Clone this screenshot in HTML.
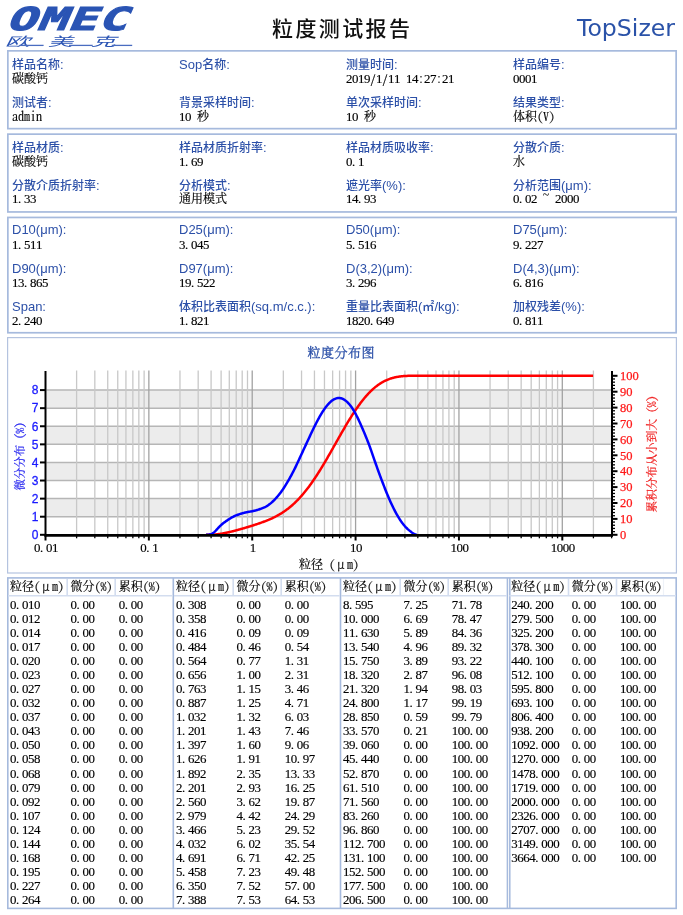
<!DOCTYPE html>
<html lang="zh-CN"><head><meta charset="utf-8"><title>粒度测试报告</title>
<style>
body{margin:0;background:#fff;width:683px;height:915px;overflow:hidden}
svg{display:block}
.lb{font-family:"Liberation Sans","Noto Sans CJK SC",sans-serif;font-size:12px;font-weight:500;fill:#2c50a8}
.lt{font-size:13px}
.v{font-family:"Liberation Serif","Noto Serif CJK SC",serif;font-size:12px;fill:#000;stroke:#000;stroke-width:0.15px}
.yt{font-family:"Liberation Serif","Noto Serif CJK SC",serif;font-size:12px;stroke-width:0.2px}
.dg{font-family:"Liberation Serif",serif;font-size:12.9px}
.h{font-family:"Noto Serif CJK SC","Liberation Serif",serif;font-feature-settings:"hwid";font-size:12px}
.tl{font-family:"Liberation Sans",sans-serif;font-size:12px;fill:#1a1aff;stroke:#1a1aff;stroke-width:0.3px}
.tr{font-family:"Liberation Serif",serif;font-size:12.5px;fill:#ff1a1a;stroke:#ff1a1a;stroke-width:0.25px}
</style></head><body>
<svg width="683" height="915" viewBox="0 0 683 915">
<rect width="683" height="915" fill="#fff"/>
<g fill="#2a54b4">
<text x="0" y="0" transform="translate(5.5,29.6) skewX(-24) scale(1.56,1)" style="font:bold 31.5px 'DejaVu Sans Mono','Liberation Mono',monospace;letter-spacing:0.6px" stroke="#2a54b4" stroke-width="1.0">OMEC</text>
</g>
<text x="0" y="0" transform="translate(4.8,45.6) skewX(-28) scale(2.0,1)" style="font:12.5px 'Liberation Sans','Noto Sans CJK SC',sans-serif" fill="#2a54b4">欧</text>
<text x="0" y="0" transform="translate(47.8,45.6) skewX(-28) scale(2.0,1)" style="font:12.5px 'Liberation Sans','Noto Sans CJK SC',sans-serif" fill="#2a54b4">美</text>
<text x="0" y="0" transform="translate(90.8,45.6) skewX(-28) scale(2.0,1)" style="font:12.5px 'Liberation Sans','Noto Sans CJK SC',sans-serif" fill="#2a54b4">克</text>
<line x1="19.5" y1="45.4" x2="43.6" y2="45.4" stroke="#4a6cc0" stroke-width="1.3"/>
<line x1="69" y1="45.4" x2="92.7" y2="45.4" stroke="#4a6cc0" stroke-width="1.3"/>
<line x1="111.7" y1="45.4" x2="132.2" y2="45.4" stroke="#4a6cc0" stroke-width="1.3"/>
<text x="272" y="36.3" style="font:500 21px 'Liberation Sans','Noto Sans CJK SC',sans-serif" fill="#111" textLength="138" lengthAdjust="spacing">粒度测试报告</text>
<text x="577" y="35.8" style="font:23px 'DejaVu Sans',sans-serif" fill="#2a52a8" textLength="98" lengthAdjust="spacingAndGlyphs">TopSizer</text>
<rect x="7.85" y="50.85" width="668.3" height="77.8" fill="none" stroke="#a6badd" stroke-width="1.7"/>
<rect x="7.85" y="134.15" width="668.3" height="77.8" fill="none" stroke="#a6badd" stroke-width="1.7"/>
<rect x="7.85" y="217.45" width="668.3" height="115.3" fill="none" stroke="#a6badd" stroke-width="1.7"/>
<text class="lb" x="12" y="69">样品名称<tspan class="lt">:</tspan></text>
<text class="v" x="12 24 36" y="82.9">碳酸钙</text>
<text class="lb" x="179" y="69"><tspan class="lt">Sop</tspan>名称<tspan class="lt">:</tspan></text>
<text class="lb" x="346" y="69">测量时间<tspan class="lt">:</tspan></text>
<text class="v" x="346 352 358 364 370 376 382 388 394 400 406 412 418 424 430 436 442 448" y="82.9"><tspan class="dg">2019</tspan><tspan class="h">/</tspan><tspan class="dg">1</tspan><tspan class="h">/</tspan><tspan class="dg">11</tspan><tspan class="h"> </tspan><tspan class="dg">14</tspan><tspan class="h">:</tspan><tspan class="dg">27</tspan><tspan class="h">:</tspan><tspan class="dg">21</tspan></text>
<text class="lb" x="513" y="69">样品编号<tspan class="lt">:</tspan></text>
<text class="v" x="513 519 525 531" y="82.9"><tspan class="dg">0001</tspan></text>
<text class="lb" x="12" y="107">测试者<tspan class="lt">:</tspan></text>
<text class="v" x="12 18 24 30 36" y="120.8"><tspan class="h">admin</tspan></text>
<text class="lb" x="179" y="107">背景采样时间<tspan class="lt">:</tspan></text>
<text class="v" x="179 185 191 197" y="120.8"><tspan class="dg">10</tspan><tspan class="h"> </tspan>秒</text>
<text class="lb" x="346" y="107">单次采样时间<tspan class="lt">:</tspan></text>
<text class="v" x="346 352 358 364" y="120.8"><tspan class="dg">10</tspan><tspan class="h"> </tspan>秒</text>
<text class="lb" x="513" y="107">结果类型<tspan class="lt">:</tspan></text>
<text class="v" x="513 525 537 543 549" y="120.8">体积<tspan class="h">(V)</tspan></text>
<text class="lb" x="12" y="152">样品材质<tspan class="lt">:</tspan></text>
<text class="v" x="12 24 36" y="165.5">碳酸钙</text>
<text class="lb" x="179" y="152">样品材质折射率<tspan class="lt">:</tspan></text>
<text class="v" x="179 185 191 197" y="165.5"><tspan class="dg">1.69</tspan></text>
<text class="lb" x="346" y="152">样品材质吸收率<tspan class="lt">:</tspan></text>
<text class="v" x="346 352 358" y="165.5"><tspan class="dg">0.1</tspan></text>
<text class="lb" x="513" y="152">分散介质<tspan class="lt">:</tspan></text>
<text class="v" x="513" y="165.5">水</text>
<text class="lb" x="12" y="189.5">分散介质折射率<tspan class="lt">:</tspan></text>
<text class="v" x="12 18 24 30" y="203"><tspan class="dg">1.33</tspan></text>
<text class="lb" x="179" y="189.5">分析模式<tspan class="lt">:</tspan></text>
<text class="v" x="179 191 203 215" y="203">通用模式</text>
<text class="lb" x="346" y="189.5">遮光率<tspan class="lt">(%):</tspan></text>
<text class="v" x="346 352 358 364 370" y="203"><tspan class="dg">14.93</tspan></text>
<text class="lb" x="513" y="189.5">分析范围<tspan class="lt">(μm):</tspan></text>
<text class="v" x="513 519 525 531 537 543 549 555 561 567 573" y="203 203 203 203 203 199 203 203 203 203 203"><tspan class="dg">0.02</tspan><tspan class="h"> ~ </tspan><tspan class="dg">2000</tspan></text>
<text class="lb" x="12" y="234.3"><tspan class="lt">D10(μm):</tspan></text>
<text class="v" x="12 18 24 30 36" y="248.7"><tspan class="dg">1.511</tspan></text>
<text class="lb" x="179" y="234.3"><tspan class="lt">D25(μm):</tspan></text>
<text class="v" x="179 185 191 197 203" y="248.7"><tspan class="dg">3.045</tspan></text>
<text class="lb" x="346" y="234.3"><tspan class="lt">D50(μm):</tspan></text>
<text class="v" x="346 352 358 364 370" y="248.7"><tspan class="dg">5.516</tspan></text>
<text class="lb" x="513" y="234.3"><tspan class="lt">D75(μm):</tspan></text>
<text class="v" x="513 519 525 531 537" y="248.7"><tspan class="dg">9.227</tspan></text>
<text class="lb" x="12" y="272.6"><tspan class="lt">D90(μm):</tspan></text>
<text class="v" x="12 18 24 30 36 42" y="287.1"><tspan class="dg">13.865</tspan></text>
<text class="lb" x="179" y="272.6"><tspan class="lt">D97(μm):</tspan></text>
<text class="v" x="179 185 191 197 203 209" y="287.1"><tspan class="dg">19.522</tspan></text>
<text class="lb" x="346" y="272.6"><tspan class="lt">D(3,2)(μm):</tspan></text>
<text class="v" x="346 352 358 364 370" y="287.1"><tspan class="dg">3.296</tspan></text>
<text class="lb" x="513" y="272.6"><tspan class="lt">D(4,3)(μm):</tspan></text>
<text class="v" x="513 519 525 531 537" y="287.1"><tspan class="dg">6.816</tspan></text>
<text class="lb" x="12" y="310.9"><tspan class="lt">Span:</tspan></text>
<text class="v" x="12 18 24 30 36" y="324.6"><tspan class="dg">2.240</tspan></text>
<text class="lb" x="179" y="310.9">体积比表面积<tspan class="lt">(sq.m/c.c.):</tspan></text>
<text class="v" x="179 185 191 197 203" y="324.6"><tspan class="dg">1.821</tspan></text>
<text class="lb" x="346" y="310.9">重量比表面积<tspan class="lt">(</tspan>㎡<tspan class="lt">/kg):</tspan></text>
<text class="v" x="346 352 358 364 370 376 382 388" y="324.6"><tspan class="dg">1820.649</tspan></text>
<text class="lb" x="513" y="310.9">加权残差<tspan class="lt">(%):</tspan></text>
<text class="v" x="513 519 525 531 537" y="324.6"><tspan class="dg">0.811</tspan></text>
<rect x="7.6" y="337.6" width="668.8" height="235.4" fill="none" stroke="#b4c3df" stroke-width="1.2"/>
<text x="307.5" y="356.6" style="font:13px 'Liberation Serif','Noto Serif CJK SC',serif;stroke:#2c50a8;stroke-width:0.3px" fill="#2c50a8" textLength="67" lengthAdjust="spacing">粒度分布图</text>
<rect x="46.5" y="498.62" width="564.5" height="18.09" fill="#ececec"/>
<rect x="46.5" y="462.44" width="564.5" height="18.09" fill="#ececec"/>
<rect x="46.5" y="426.26" width="564.5" height="18.09" fill="#ececec"/>
<rect x="46.5" y="390.08" width="564.5" height="18.09" fill="#ececec"/>
<line x1="46.5" y1="516.71" x2="611" y2="516.71" stroke="#b6b6b6" stroke-width="1.5"/>
<line x1="46.5" y1="498.62" x2="611" y2="498.62" stroke="#b6b6b6" stroke-width="1.5"/>
<line x1="46.5" y1="480.53" x2="611" y2="480.53" stroke="#b6b6b6" stroke-width="1.5"/>
<line x1="46.5" y1="462.44" x2="611" y2="462.44" stroke="#b6b6b6" stroke-width="1.5"/>
<line x1="46.5" y1="444.35" x2="611" y2="444.35" stroke="#b6b6b6" stroke-width="1.5"/>
<line x1="46.5" y1="426.26" x2="611" y2="426.26" stroke="#b6b6b6" stroke-width="1.5"/>
<line x1="46.5" y1="408.17" x2="611" y2="408.17" stroke="#b6b6b6" stroke-width="1.5"/>
<line x1="46.5" y1="390.08" x2="611" y2="390.08" stroke="#b6b6b6" stroke-width="1.5"/>
<line x1="76.61" y1="370.5" x2="76.61" y2="534" stroke="#c8c8c8" stroke-width="1.3"/>
<line x1="94.82" y1="370.5" x2="94.82" y2="534" stroke="#c8c8c8" stroke-width="1.3"/>
<line x1="107.73" y1="370.5" x2="107.73" y2="534" stroke="#c8c8c8" stroke-width="1.3"/>
<line x1="117.75" y1="370.5" x2="117.75" y2="534" stroke="#c8c8c8" stroke-width="1.3"/>
<line x1="125.93" y1="370.5" x2="125.93" y2="534" stroke="#c8c8c8" stroke-width="1.3"/>
<line x1="132.85" y1="370.5" x2="132.85" y2="534" stroke="#c8c8c8" stroke-width="1.3"/>
<line x1="138.84" y1="370.5" x2="138.84" y2="534" stroke="#c8c8c8" stroke-width="1.3"/>
<line x1="144.13" y1="370.5" x2="144.13" y2="534" stroke="#c8c8c8" stroke-width="1.3"/>
<line x1="148.86" y1="370.5" x2="148.86" y2="534" stroke="#a2a2a2" stroke-width="1.3"/>
<line x1="179.97" y1="370.5" x2="179.97" y2="534" stroke="#c8c8c8" stroke-width="1.3"/>
<line x1="198.18" y1="370.5" x2="198.18" y2="534" stroke="#c8c8c8" stroke-width="1.3"/>
<line x1="211.09" y1="370.5" x2="211.09" y2="534" stroke="#c8c8c8" stroke-width="1.3"/>
<line x1="221.11" y1="370.5" x2="221.11" y2="534" stroke="#c8c8c8" stroke-width="1.3"/>
<line x1="229.29" y1="370.5" x2="229.29" y2="534" stroke="#c8c8c8" stroke-width="1.3"/>
<line x1="236.21" y1="370.5" x2="236.21" y2="534" stroke="#c8c8c8" stroke-width="1.3"/>
<line x1="242.2" y1="370.5" x2="242.2" y2="534" stroke="#c8c8c8" stroke-width="1.3"/>
<line x1="247.49" y1="370.5" x2="247.49" y2="534" stroke="#c8c8c8" stroke-width="1.3"/>
<line x1="252.22" y1="370.5" x2="252.22" y2="534" stroke="#a2a2a2" stroke-width="1.3"/>
<line x1="283.33" y1="370.5" x2="283.33" y2="534" stroke="#c8c8c8" stroke-width="1.3"/>
<line x1="301.54" y1="370.5" x2="301.54" y2="534" stroke="#c8c8c8" stroke-width="1.3"/>
<line x1="314.45" y1="370.5" x2="314.45" y2="534" stroke="#c8c8c8" stroke-width="1.3"/>
<line x1="324.47" y1="370.5" x2="324.47" y2="534" stroke="#c8c8c8" stroke-width="1.3"/>
<line x1="332.65" y1="370.5" x2="332.65" y2="534" stroke="#c8c8c8" stroke-width="1.3"/>
<line x1="339.57" y1="370.5" x2="339.57" y2="534" stroke="#c8c8c8" stroke-width="1.3"/>
<line x1="345.56" y1="370.5" x2="345.56" y2="534" stroke="#c8c8c8" stroke-width="1.3"/>
<line x1="350.85" y1="370.5" x2="350.85" y2="534" stroke="#c8c8c8" stroke-width="1.3"/>
<line x1="355.58" y1="370.5" x2="355.58" y2="534" stroke="#a2a2a2" stroke-width="1.3"/>
<line x1="386.69" y1="370.5" x2="386.69" y2="534" stroke="#c8c8c8" stroke-width="1.3"/>
<line x1="404.9" y1="370.5" x2="404.9" y2="534" stroke="#c8c8c8" stroke-width="1.3"/>
<line x1="417.81" y1="370.5" x2="417.81" y2="534" stroke="#c8c8c8" stroke-width="1.3"/>
<line x1="427.83" y1="370.5" x2="427.83" y2="534" stroke="#c8c8c8" stroke-width="1.3"/>
<line x1="436.01" y1="370.5" x2="436.01" y2="534" stroke="#c8c8c8" stroke-width="1.3"/>
<line x1="442.93" y1="370.5" x2="442.93" y2="534" stroke="#c8c8c8" stroke-width="1.3"/>
<line x1="448.92" y1="370.5" x2="448.92" y2="534" stroke="#c8c8c8" stroke-width="1.3"/>
<line x1="454.21" y1="370.5" x2="454.21" y2="534" stroke="#c8c8c8" stroke-width="1.3"/>
<line x1="458.94" y1="370.5" x2="458.94" y2="534" stroke="#a2a2a2" stroke-width="1.3"/>
<line x1="490.05" y1="370.5" x2="490.05" y2="534" stroke="#c8c8c8" stroke-width="1.3"/>
<line x1="508.26" y1="370.5" x2="508.26" y2="534" stroke="#c8c8c8" stroke-width="1.3"/>
<line x1="521.17" y1="370.5" x2="521.17" y2="534" stroke="#c8c8c8" stroke-width="1.3"/>
<line x1="531.19" y1="370.5" x2="531.19" y2="534" stroke="#c8c8c8" stroke-width="1.3"/>
<line x1="539.37" y1="370.5" x2="539.37" y2="534" stroke="#c8c8c8" stroke-width="1.3"/>
<line x1="546.29" y1="370.5" x2="546.29" y2="534" stroke="#c8c8c8" stroke-width="1.3"/>
<line x1="552.28" y1="370.5" x2="552.28" y2="534" stroke="#c8c8c8" stroke-width="1.3"/>
<line x1="557.57" y1="370.5" x2="557.57" y2="534" stroke="#c8c8c8" stroke-width="1.3"/>
<line x1="562.3" y1="370.5" x2="562.3" y2="534" stroke="#a2a2a2" stroke-width="1.3"/>
<line x1="593.41" y1="370.5" x2="593.41" y2="534" stroke="#c8c8c8" stroke-width="1.3"/>
<polyline fill="none" stroke="#ff0000" stroke-width="2.5" stroke-linejoin="round" points="206.1,534.80 206.7,534.80 207.3,534.79 207.9,534.79 208.5,534.78 209.1,534.77 209.7,534.75 210.3,534.74 210.9,534.72 211.5,534.70 212.1,534.68 212.7,534.66 213.3,534.64 213.9,534.60 214.5,534.56 215.1,534.50 215.7,534.44 216.3,534.37 216.9,534.30 217.5,534.23 218.1,534.15 218.7,534.07 219.3,533.99 219.9,533.91 220.5,533.82 221.1,533.73 221.7,533.63 222.3,533.53 222.9,533.42 223.5,533.31 224.1,533.20 224.7,533.08 225.3,532.96 225.9,532.84 226.5,532.72 227.1,532.59 227.7,532.47 228.3,532.33 228.9,532.20 229.5,532.06 230.1,531.91 230.7,531.77 231.3,531.62 231.9,531.47 232.5,531.32 233.1,531.17 233.7,531.02 234.3,530.87 234.9,530.71 235.5,530.55 236.1,530.39 236.7,530.23 237.3,530.07 237.9,529.90 238.5,529.74 239.1,529.57 239.7,529.40 240.3,529.23 240.9,529.06 241.5,528.89 242.1,528.72 242.7,528.54 243.3,528.37 243.9,528.19 244.5,528.01 245.1,527.83 245.7,527.65 246.3,527.47 246.9,527.29 247.5,527.11 248.1,526.93 248.7,526.74 249.3,526.56 249.9,526.38 250.5,526.19 251.1,526.01 251.7,525.82 252.3,525.63 252.9,525.44 253.5,525.25 254.1,525.06 254.7,524.87 255.3,524.67 255.9,524.48 256.5,524.28 257.1,524.08 257.7,523.88 258.3,523.68 258.9,523.47 259.5,523.26 260.1,523.06 260.7,522.84 261.3,522.63 261.9,522.42 262.5,522.20 263.1,521.98 263.7,521.76 264.3,521.53 264.9,521.31 265.5,521.08 266.1,520.84 266.7,520.60 267.3,520.36 267.9,520.11 268.5,519.87 269.1,519.61 269.7,519.35 270.3,519.09 270.9,518.83 271.5,518.56 272.1,518.28 272.7,518.00 273.3,517.71 273.9,517.42 274.5,517.13 275.1,516.82 275.7,516.51 276.3,516.20 276.9,515.87 277.5,515.54 278.1,515.21 278.7,514.87 279.3,514.52 279.9,514.17 280.5,513.81 281.1,513.44 281.7,513.07 282.3,512.69 282.9,512.30 283.5,511.90 284.1,511.50 284.7,511.08 285.3,510.66 285.9,510.24 286.5,509.80 287.1,509.36 287.7,508.90 288.3,508.44 288.9,507.97 289.5,507.49 290.1,507.00 290.7,506.50 291.3,505.99 291.9,505.47 292.5,504.94 293.1,504.40 293.7,503.86 294.3,503.31 294.9,502.74 295.5,502.17 296.1,501.58 296.7,500.98 297.3,500.38 297.9,499.76 298.5,499.13 299.1,498.49 299.7,497.85 300.3,497.19 300.9,496.53 301.5,495.85 302.1,495.17 302.7,494.47 303.3,493.76 303.9,493.05 304.5,492.32 305.1,491.58 305.7,490.83 306.3,490.07 306.9,489.30 307.5,488.53 308.1,487.74 308.7,486.95 309.3,486.14 309.9,485.32 310.5,484.49 311.1,483.65 311.7,482.80 312.3,481.95 312.9,481.08 313.5,480.20 314.1,479.32 314.7,478.44 315.3,477.54 315.9,476.63 316.5,475.72 317.1,474.79 317.7,473.86 318.3,472.91 318.9,471.96 319.5,471.00 320.1,470.04 320.7,469.07 321.3,468.10 321.9,467.12 322.5,466.13 323.1,465.14 323.7,464.14 324.3,463.13 324.9,462.11 325.5,461.09 326.1,460.07 326.7,459.04 327.3,458.01 327.9,456.97 328.5,455.94 329.1,454.90 329.7,453.85 330.3,452.80 330.9,451.75 331.5,450.69 332.1,449.63 332.7,448.56 333.3,447.50 333.9,446.44 334.5,445.38 335.1,444.32 335.7,443.26 336.3,442.20 336.9,441.14 337.5,440.08 338.1,439.01 338.7,437.95 339.3,436.89 339.9,435.83 340.5,434.78 341.1,433.73 341.7,432.68 342.3,431.65 342.9,430.61 343.5,429.57 344.1,428.54 344.7,427.51 345.3,426.48 345.9,425.46 346.5,424.44 347.1,423.44 347.7,422.44 348.3,421.45 348.9,420.47 349.5,419.49 350.1,418.52 350.7,417.56 351.3,416.60 351.9,415.64 352.5,414.70 353.1,413.77 353.7,412.84 354.3,411.93 354.9,411.03 355.5,410.14 356.1,409.26 356.7,408.39 357.3,407.52 357.9,406.66 358.5,405.82 359.1,404.98 359.7,404.15 360.3,403.34 360.9,402.54 361.5,401.75 362.1,400.98 362.7,400.23 363.3,399.48 363.9,398.74 364.5,398.02 365.1,397.30 365.7,396.59 366.3,395.90 366.9,395.22 367.5,394.56 368.1,393.91 368.7,393.27 369.3,392.65 369.9,392.05 370.5,391.45 371.1,390.86 371.7,390.28 372.3,389.72 372.9,389.17 373.5,388.63 374.1,388.10 374.7,387.60 375.3,387.10 375.9,386.63 376.5,386.17 377.1,385.72 377.7,385.27 378.3,384.84 378.9,384.42 379.5,384.01 380.1,383.62 380.7,383.23 381.3,382.86 381.9,382.51 382.5,382.17 383.1,381.84 383.7,381.52 384.3,381.21 384.9,380.91 385.5,380.62 386.1,380.33 386.7,380.06 387.3,379.80 387.9,379.55 388.5,379.31 389.1,379.09 389.7,378.88 390.3,378.68 390.9,378.49 391.5,378.30 392.1,378.12 392.7,377.95 393.3,377.78 393.9,377.63 394.5,377.48 395.1,377.34 395.7,377.21 396.3,377.10 396.9,376.99 397.5,376.88 398.1,376.77 398.7,376.68 399.3,376.58 399.9,376.49 400.5,376.41 401.1,376.33 401.7,376.26 402.3,376.20 402.9,376.15 403.5,376.11 404.1,376.06 404.7,376.02 405.3,375.98 405.9,375.94 406.5,375.91 407.1,375.88 407.7,375.85 408.3,375.83 408.9,375.81 409.5,375.80 410.1,375.80 410.7,375.80 411.3,375.80 411.9,375.80 412.5,375.80 413.1,375.80 413.7,375.80 414.3,375.80 414.9,375.80 415.5,375.80 416.1,375.80 416.7,375.80 417.3,375.80 417.9,375.80 418.5,375.80 419.1,375.80 419.7,375.80 420.3,375.80 420.9,375.80 421.5,375.80 422.1,375.80 422.7,375.80 423.3,375.80 423.9,375.80 424.5,375.80 425.1,375.80 425.7,375.80 426.3,375.80 426.9,375.80 427.5,375.80 428.1,375.80 428.7,375.80 429.3,375.80 429.9,375.80 430.5,375.80 431.1,375.80 431.7,375.80 432.3,375.80 432.9,375.80 433.5,375.80 434.1,375.80 434.7,375.80 435.3,375.80 435.9,375.80 436.5,375.80 437.1,375.80 437.7,375.80 438.3,375.80 438.9,375.80 439.5,375.80 440.1,375.80 440.7,375.80 441.3,375.80 441.9,375.80 442.5,375.80 443.1,375.80 443.7,375.80 444.3,375.80 444.9,375.80 445.5,375.80 446.1,375.80 446.7,375.80 447.3,375.80 447.9,375.80 448.5,375.80 449.1,375.80 449.7,375.80 450.3,375.80 450.9,375.80 451.5,375.80 452.1,375.80 452.7,375.80 453.3,375.80 453.9,375.80 454.5,375.80 455.1,375.80 455.7,375.80 456.3,375.80 456.9,375.80 457.5,375.80 458.1,375.80 458.7,375.80 459.3,375.80 459.9,375.80 460.5,375.80 461.1,375.80 461.7,375.80 462.3,375.80 462.9,375.80 463.5,375.80 464.1,375.80 464.7,375.80 465.3,375.80 465.9,375.80 466.5,375.80 467.1,375.80 467.7,375.80 468.3,375.80 468.9,375.80 469.5,375.80 470.1,375.80 470.7,375.80 471.3,375.80 471.9,375.80 472.5,375.80 473.1,375.80 473.7,375.80 474.3,375.80 474.9,375.80 475.5,375.80 476.1,375.80 476.7,375.80 477.3,375.80 477.9,375.80 478.5,375.80 479.1,375.80 479.7,375.80 480.3,375.80 480.9,375.80 481.5,375.80 482.1,375.80 482.7,375.80 483.3,375.80 483.9,375.80 484.5,375.80 485.1,375.80 485.7,375.80 486.3,375.80 486.9,375.80 487.5,375.80 488.1,375.80 488.7,375.80 489.3,375.80 489.9,375.80 490.5,375.80 491.1,375.80 491.7,375.80 492.3,375.80 492.9,375.80 493.5,375.80 494.1,375.80 494.7,375.80 495.3,375.80 495.9,375.80 496.5,375.80 497.1,375.80 497.7,375.80 498.3,375.80 498.9,375.80 499.5,375.80 500.1,375.80 500.7,375.80 501.3,375.80 501.9,375.80 502.5,375.80 503.1,375.80 503.7,375.80 504.3,375.80 504.9,375.80 505.5,375.80 506.1,375.80 506.7,375.80 507.3,375.80 507.9,375.80 508.5,375.80 509.1,375.80 509.7,375.80 510.3,375.80 510.9,375.80 511.5,375.80 512.1,375.80 512.7,375.80 513.3,375.80 513.9,375.80 514.5,375.80 515.1,375.80 515.7,375.80 516.3,375.80 516.9,375.80 517.5,375.80 518.1,375.80 518.7,375.80 519.3,375.80 519.9,375.80 520.5,375.80 521.1,375.80 521.7,375.80 522.3,375.80 522.9,375.80 523.5,375.80 524.1,375.80 524.7,375.80 525.3,375.80 525.9,375.80 526.5,375.80 527.1,375.80 527.7,375.80 528.3,375.80 528.9,375.80 529.5,375.80 530.1,375.80 530.7,375.80 531.3,375.80 531.9,375.80 532.5,375.80 533.1,375.80 533.7,375.80 534.3,375.80 534.9,375.80 535.5,375.80 536.1,375.80 536.7,375.80 537.3,375.80 537.9,375.80 538.5,375.80 539.1,375.80 539.7,375.80 540.3,375.80 540.9,375.80 541.5,375.80 542.1,375.80 542.7,375.80 543.3,375.80 543.9,375.80 544.5,375.80 545.1,375.80 545.7,375.80 546.3,375.80 546.9,375.80 547.5,375.80 548.1,375.80 548.7,375.80 549.3,375.80 549.9,375.80 550.5,375.80 551.1,375.80 551.7,375.80 552.3,375.80 552.9,375.80 553.5,375.80 554.1,375.80 554.7,375.80 555.3,375.80 555.9,375.80 556.5,375.80 557.1,375.80 557.7,375.80 558.3,375.80 558.9,375.80 559.5,375.80 560.1,375.80 560.7,375.80 561.3,375.80 561.9,375.80 562.5,375.80 563.1,375.80 563.7,375.80 564.3,375.80 564.9,375.80 565.5,375.80 566.1,375.80 566.7,375.80 567.3,375.80 567.9,375.80 568.5,375.80 569.1,375.80 569.7,375.80 570.3,375.80 570.9,375.80 571.5,375.80 572.1,375.80 572.7,375.80 573.3,375.80 573.9,375.80 574.5,375.80 575.1,375.80 575.7,375.80 576.3,375.80 576.9,375.80 577.5,375.80 578.1,375.80 578.7,375.80 579.3,375.80 579.9,375.80 580.5,375.80 581.1,375.80 581.7,375.80 582.3,375.80 582.9,375.80 583.5,375.80 584.1,375.80 584.7,375.80 585.3,375.80 585.9,375.80 586.5,375.80 587.1,375.80 587.7,375.80 588.3,375.80 588.9,375.80 589.5,375.80 590.1,375.80 590.7,375.80 591.3,375.80 591.9,375.80 592.5,375.80 593.1,375.80"/>
<polyline fill="none" stroke="#0000ff" stroke-width="2.5" stroke-linejoin="round" points="206.1,534.80 206.7,534.79 207.3,534.77 207.9,534.73 208.5,534.67 209.1,534.59 209.7,534.48 210.3,534.33 210.9,534.14 211.5,533.90 212.1,533.61 212.7,533.26 213.3,532.85 213.9,532.38 214.5,531.85 215.1,531.29 215.7,530.69 216.3,530.06 216.9,529.41 217.5,528.76 218.1,528.11 218.7,527.46 219.3,526.82 219.9,526.21 220.5,525.63 221.1,525.07 221.7,524.54 222.3,524.03 222.9,523.54 223.5,523.06 224.1,522.60 224.7,522.15 225.3,521.72 225.9,521.29 226.5,520.87 227.1,520.46 227.7,520.05 228.3,519.65 228.9,519.26 229.5,518.88 230.1,518.51 230.7,518.14 231.3,517.79 231.9,517.45 232.5,517.12 233.1,516.80 233.7,516.50 234.3,516.22 234.9,515.94 235.5,515.68 236.1,515.43 236.7,515.19 237.3,514.96 237.9,514.74 238.5,514.52 239.1,514.32 239.7,514.12 240.3,513.92 240.9,513.73 241.5,513.55 242.1,513.37 242.7,513.20 243.3,513.03 243.9,512.87 244.5,512.72 245.1,512.57 245.7,512.43 246.3,512.30 246.9,512.17 247.5,512.05 248.1,511.94 248.7,511.83 249.3,511.73 249.9,511.62 250.5,511.52 251.1,511.41 251.7,511.31 252.3,511.19 252.9,511.07 253.5,510.95 254.1,510.81 254.7,510.67 255.3,510.52 255.9,510.36 256.5,510.19 257.1,510.01 257.7,509.83 258.3,509.64 258.9,509.45 259.5,509.25 260.1,509.05 260.7,508.84 261.3,508.62 261.9,508.40 262.5,508.17 263.1,507.93 263.7,507.68 264.3,507.41 264.9,507.13 265.5,506.83 266.1,506.51 266.7,506.17 267.3,505.81 267.9,505.42 268.5,505.01 269.1,504.57 269.7,504.12 270.3,503.64 270.9,503.15 271.5,502.63 272.1,502.09 272.7,501.54 273.3,500.97 273.9,500.38 274.5,499.78 275.1,499.16 275.7,498.52 276.3,497.86 276.9,497.19 277.5,496.50 278.1,495.79 278.7,495.06 279.3,494.31 279.9,493.53 280.5,492.74 281.1,491.92 281.7,491.08 282.3,490.22 282.9,489.34 283.5,488.44 284.1,487.52 284.7,486.59 285.3,485.63 285.9,484.66 286.5,483.68 287.1,482.68 287.7,481.67 288.3,480.64 288.9,479.60 289.5,478.55 290.1,477.48 290.7,476.40 291.3,475.29 291.9,474.18 292.5,473.04 293.1,471.89 293.7,470.72 294.3,469.53 294.9,468.32 295.5,467.09 296.1,465.84 296.7,464.58 297.3,463.31 297.9,462.02 298.5,460.73 299.1,459.43 299.7,458.13 300.3,456.82 300.9,455.52 301.5,454.21 302.1,452.91 302.7,451.61 303.3,450.32 303.9,449.02 304.5,447.73 305.1,446.44 305.7,445.15 306.3,443.86 306.9,442.57 307.5,441.28 308.1,439.99 308.7,438.70 309.3,437.41 309.9,436.12 310.5,434.84 311.1,433.57 311.7,432.30 312.3,431.03 312.9,429.78 313.5,428.54 314.1,427.31 314.7,426.09 315.3,424.89 315.9,423.71 316.5,422.54 317.1,421.39 317.7,420.26 318.3,419.15 318.9,418.05 319.5,416.98 320.1,415.93 320.7,414.90 321.3,413.90 321.9,412.92 322.5,411.96 323.1,411.03 323.7,410.12 324.3,409.24 324.9,408.39 325.5,407.56 326.1,406.77 326.7,406.00 327.3,405.27 327.9,404.56 328.5,403.89 329.1,403.25 329.7,402.64 330.3,402.07 330.9,401.53 331.5,401.03 332.1,400.56 332.7,400.13 333.3,399.74 333.9,399.39 334.5,399.07 335.1,398.80 335.7,398.57 336.3,398.37 336.9,398.22 337.5,398.11 338.1,398.04 338.7,398.01 339.3,398.02 339.9,398.08 340.5,398.17 341.1,398.31 341.7,398.48 342.3,398.70 342.9,398.96 343.5,399.26 344.1,399.61 344.7,399.99 345.3,400.41 345.9,400.88 346.5,401.38 347.1,401.92 347.7,402.51 348.3,403.13 348.9,403.79 349.5,404.49 350.1,405.23 350.7,406.01 351.3,406.82 351.9,407.68 352.5,408.58 353.1,409.51 353.7,410.49 354.3,411.50 354.9,412.55 355.5,413.65 356.1,414.78 356.7,415.95 357.3,417.15 357.9,418.39 358.5,419.65 359.1,420.94 359.7,422.25 360.3,423.58 360.9,424.93 361.5,426.30 362.1,427.68 362.7,429.06 363.3,430.46 363.9,431.87 364.5,433.29 365.1,434.72 365.7,436.18 366.3,437.66 366.9,439.15 367.5,440.68 368.1,442.22 368.7,443.80 369.3,445.41 369.9,447.05 370.5,448.72 371.1,450.41 371.7,452.12 372.3,453.85 372.9,455.58 373.5,457.32 374.1,459.06 374.7,460.80 375.3,462.53 375.9,464.25 376.5,465.96 377.1,467.65 377.7,469.32 378.3,470.98 378.9,472.63 379.5,474.26 380.1,475.88 380.7,477.48 381.3,479.08 381.9,480.66 382.5,482.24 383.1,483.80 383.7,485.36 384.3,486.90 384.9,488.43 385.5,489.94 386.1,491.44 386.7,492.92 387.3,494.39 387.9,495.83 388.5,497.26 389.1,498.66 389.7,500.04 390.3,501.39 390.9,502.72 391.5,504.03 392.1,505.31 392.7,506.56 393.3,507.79 393.9,509.00 394.5,510.18 395.1,511.33 395.7,512.46 396.3,513.56 396.9,514.63 397.5,515.68 398.1,516.70 398.7,517.70 399.3,518.66 399.9,519.60 400.5,520.50 401.1,521.38 401.7,522.23 402.3,523.05 402.9,523.83 403.5,524.59 404.1,525.31 404.7,526.01 405.3,526.67 405.9,527.31 406.5,527.92 407.1,528.51 407.7,529.08 408.3,529.62 408.9,530.15 409.5,530.65 410.1,531.13 410.7,531.60 411.3,532.05 411.9,532.47 412.5,532.87 413.1,533.25 413.7,533.59 414.3,533.90 414.9,534.18 415.5,534.42 416.1,534.63 416.7,534.79"/>
<line x1="45.5" y1="371" x2="45.5" y2="536.5" stroke="#000" stroke-width="2"/>
<line x1="612" y1="371" x2="612" y2="536.5" stroke="#000" stroke-width="2"/>
<line x1="44.5" y1="535.3" x2="613" y2="535.3" stroke="#000" stroke-width="2.8"/>
<line x1="40" y1="534.8" x2="45" y2="534.8" stroke="#000" stroke-width="2"/>
<text class="tl" x="38.5" y="539.1" text-anchor="end">0</text>
<line x1="40" y1="516.71" x2="45" y2="516.71" stroke="#000" stroke-width="2"/>
<text class="tl" x="38.5" y="521.01" text-anchor="end">1</text>
<line x1="40" y1="498.62" x2="45" y2="498.62" stroke="#000" stroke-width="2"/>
<text class="tl" x="38.5" y="502.92" text-anchor="end">2</text>
<line x1="40" y1="480.53" x2="45" y2="480.53" stroke="#000" stroke-width="2"/>
<text class="tl" x="38.5" y="484.83" text-anchor="end">3</text>
<line x1="40" y1="462.44" x2="45" y2="462.44" stroke="#000" stroke-width="2"/>
<text class="tl" x="38.5" y="466.74" text-anchor="end">4</text>
<line x1="40" y1="444.35" x2="45" y2="444.35" stroke="#000" stroke-width="2"/>
<text class="tl" x="38.5" y="448.65" text-anchor="end">5</text>
<line x1="40" y1="426.26" x2="45" y2="426.26" stroke="#000" stroke-width="2"/>
<text class="tl" x="38.5" y="430.56" text-anchor="end">6</text>
<line x1="40" y1="408.17" x2="45" y2="408.17" stroke="#000" stroke-width="2"/>
<text class="tl" x="38.5" y="412.47" text-anchor="end">7</text>
<line x1="40" y1="390.08" x2="45" y2="390.08" stroke="#000" stroke-width="2"/>
<text class="tl" x="38.5" y="394.38" text-anchor="end">8</text>
<line x1="612.5" y1="534.8" x2="617.5" y2="534.8" stroke="#000" stroke-width="2"/>
<text class="tr" x="620" y="539">0</text>
<line x1="612.5" y1="531.62" x2="615" y2="531.62" stroke="#000" stroke-width="1.3"/>
<line x1="612.5" y1="528.44" x2="615" y2="528.44" stroke="#000" stroke-width="1.3"/>
<line x1="612.5" y1="525.26" x2="615" y2="525.26" stroke="#000" stroke-width="1.3"/>
<line x1="612.5" y1="522.08" x2="615" y2="522.08" stroke="#000" stroke-width="1.3"/>
<line x1="612.5" y1="518.9" x2="617.5" y2="518.9" stroke="#000" stroke-width="2"/>
<text class="tr" x="620" y="523.1">10</text>
<line x1="612.5" y1="515.72" x2="615" y2="515.72" stroke="#000" stroke-width="1.3"/>
<line x1="612.5" y1="512.54" x2="615" y2="512.54" stroke="#000" stroke-width="1.3"/>
<line x1="612.5" y1="509.36" x2="615" y2="509.36" stroke="#000" stroke-width="1.3"/>
<line x1="612.5" y1="506.18" x2="615" y2="506.18" stroke="#000" stroke-width="1.3"/>
<line x1="612.5" y1="503" x2="617.5" y2="503" stroke="#000" stroke-width="2"/>
<text class="tr" x="620" y="507.2">20</text>
<line x1="612.5" y1="499.82" x2="615" y2="499.82" stroke="#000" stroke-width="1.3"/>
<line x1="612.5" y1="496.64" x2="615" y2="496.64" stroke="#000" stroke-width="1.3"/>
<line x1="612.5" y1="493.46" x2="615" y2="493.46" stroke="#000" stroke-width="1.3"/>
<line x1="612.5" y1="490.28" x2="615" y2="490.28" stroke="#000" stroke-width="1.3"/>
<line x1="612.5" y1="487.1" x2="617.5" y2="487.1" stroke="#000" stroke-width="2"/>
<text class="tr" x="620" y="491.3">30</text>
<line x1="612.5" y1="483.92" x2="615" y2="483.92" stroke="#000" stroke-width="1.3"/>
<line x1="612.5" y1="480.74" x2="615" y2="480.74" stroke="#000" stroke-width="1.3"/>
<line x1="612.5" y1="477.56" x2="615" y2="477.56" stroke="#000" stroke-width="1.3"/>
<line x1="612.5" y1="474.38" x2="615" y2="474.38" stroke="#000" stroke-width="1.3"/>
<line x1="612.5" y1="471.2" x2="617.5" y2="471.2" stroke="#000" stroke-width="2"/>
<text class="tr" x="620" y="475.4">40</text>
<line x1="612.5" y1="468.02" x2="615" y2="468.02" stroke="#000" stroke-width="1.3"/>
<line x1="612.5" y1="464.84" x2="615" y2="464.84" stroke="#000" stroke-width="1.3"/>
<line x1="612.5" y1="461.66" x2="615" y2="461.66" stroke="#000" stroke-width="1.3"/>
<line x1="612.5" y1="458.48" x2="615" y2="458.48" stroke="#000" stroke-width="1.3"/>
<line x1="612.5" y1="455.3" x2="617.5" y2="455.3" stroke="#000" stroke-width="2"/>
<text class="tr" x="620" y="459.5">50</text>
<line x1="612.5" y1="452.12" x2="615" y2="452.12" stroke="#000" stroke-width="1.3"/>
<line x1="612.5" y1="448.94" x2="615" y2="448.94" stroke="#000" stroke-width="1.3"/>
<line x1="612.5" y1="445.76" x2="615" y2="445.76" stroke="#000" stroke-width="1.3"/>
<line x1="612.5" y1="442.58" x2="615" y2="442.58" stroke="#000" stroke-width="1.3"/>
<line x1="612.5" y1="439.4" x2="617.5" y2="439.4" stroke="#000" stroke-width="2"/>
<text class="tr" x="620" y="443.6">60</text>
<line x1="612.5" y1="436.22" x2="615" y2="436.22" stroke="#000" stroke-width="1.3"/>
<line x1="612.5" y1="433.04" x2="615" y2="433.04" stroke="#000" stroke-width="1.3"/>
<line x1="612.5" y1="429.86" x2="615" y2="429.86" stroke="#000" stroke-width="1.3"/>
<line x1="612.5" y1="426.68" x2="615" y2="426.68" stroke="#000" stroke-width="1.3"/>
<line x1="612.5" y1="423.5" x2="617.5" y2="423.5" stroke="#000" stroke-width="2"/>
<text class="tr" x="620" y="427.7">70</text>
<line x1="612.5" y1="420.32" x2="615" y2="420.32" stroke="#000" stroke-width="1.3"/>
<line x1="612.5" y1="417.14" x2="615" y2="417.14" stroke="#000" stroke-width="1.3"/>
<line x1="612.5" y1="413.96" x2="615" y2="413.96" stroke="#000" stroke-width="1.3"/>
<line x1="612.5" y1="410.78" x2="615" y2="410.78" stroke="#000" stroke-width="1.3"/>
<line x1="612.5" y1="407.6" x2="617.5" y2="407.6" stroke="#000" stroke-width="2"/>
<text class="tr" x="620" y="411.8">80</text>
<line x1="612.5" y1="404.42" x2="615" y2="404.42" stroke="#000" stroke-width="1.3"/>
<line x1="612.5" y1="401.24" x2="615" y2="401.24" stroke="#000" stroke-width="1.3"/>
<line x1="612.5" y1="398.06" x2="615" y2="398.06" stroke="#000" stroke-width="1.3"/>
<line x1="612.5" y1="394.88" x2="615" y2="394.88" stroke="#000" stroke-width="1.3"/>
<line x1="612.5" y1="391.7" x2="617.5" y2="391.7" stroke="#000" stroke-width="2"/>
<text class="tr" x="620" y="395.9">90</text>
<line x1="612.5" y1="388.52" x2="615" y2="388.52" stroke="#000" stroke-width="1.3"/>
<line x1="612.5" y1="385.34" x2="615" y2="385.34" stroke="#000" stroke-width="1.3"/>
<line x1="612.5" y1="382.16" x2="615" y2="382.16" stroke="#000" stroke-width="1.3"/>
<line x1="612.5" y1="378.98" x2="615" y2="378.98" stroke="#000" stroke-width="1.3"/>
<line x1="612.5" y1="375.8" x2="617.5" y2="375.8" stroke="#000" stroke-width="2"/>
<text class="tr" x="620" y="380">100</text>
<line x1="45.5" y1="535" x2="45.5" y2="540.5" stroke="#000" stroke-width="2"/>
<line x1="76.61" y1="535" x2="76.61" y2="538.3" stroke="#000" stroke-width="1.3"/>
<line x1="94.82" y1="535" x2="94.82" y2="538.3" stroke="#000" stroke-width="1.3"/>
<line x1="107.73" y1="535" x2="107.73" y2="538.3" stroke="#000" stroke-width="1.3"/>
<line x1="117.75" y1="535" x2="117.75" y2="538.3" stroke="#000" stroke-width="1.3"/>
<line x1="125.93" y1="535" x2="125.93" y2="538.3" stroke="#000" stroke-width="1.3"/>
<line x1="132.85" y1="535" x2="132.85" y2="538.3" stroke="#000" stroke-width="1.3"/>
<line x1="138.84" y1="535" x2="138.84" y2="538.3" stroke="#000" stroke-width="1.3"/>
<line x1="144.13" y1="535" x2="144.13" y2="538.3" stroke="#000" stroke-width="1.3"/>
<line x1="148.86" y1="535" x2="148.86" y2="540.5" stroke="#000" stroke-width="2"/>
<line x1="179.97" y1="535" x2="179.97" y2="538.3" stroke="#000" stroke-width="1.3"/>
<line x1="198.18" y1="535" x2="198.18" y2="538.3" stroke="#000" stroke-width="1.3"/>
<line x1="211.09" y1="535" x2="211.09" y2="538.3" stroke="#000" stroke-width="1.3"/>
<line x1="221.11" y1="535" x2="221.11" y2="538.3" stroke="#000" stroke-width="1.3"/>
<line x1="229.29" y1="535" x2="229.29" y2="538.3" stroke="#000" stroke-width="1.3"/>
<line x1="236.21" y1="535" x2="236.21" y2="538.3" stroke="#000" stroke-width="1.3"/>
<line x1="242.2" y1="535" x2="242.2" y2="538.3" stroke="#000" stroke-width="1.3"/>
<line x1="247.49" y1="535" x2="247.49" y2="538.3" stroke="#000" stroke-width="1.3"/>
<line x1="252.22" y1="535" x2="252.22" y2="540.5" stroke="#000" stroke-width="2"/>
<line x1="283.33" y1="535" x2="283.33" y2="538.3" stroke="#000" stroke-width="1.3"/>
<line x1="301.54" y1="535" x2="301.54" y2="538.3" stroke="#000" stroke-width="1.3"/>
<line x1="314.45" y1="535" x2="314.45" y2="538.3" stroke="#000" stroke-width="1.3"/>
<line x1="324.47" y1="535" x2="324.47" y2="538.3" stroke="#000" stroke-width="1.3"/>
<line x1="332.65" y1="535" x2="332.65" y2="538.3" stroke="#000" stroke-width="1.3"/>
<line x1="339.57" y1="535" x2="339.57" y2="538.3" stroke="#000" stroke-width="1.3"/>
<line x1="345.56" y1="535" x2="345.56" y2="538.3" stroke="#000" stroke-width="1.3"/>
<line x1="350.85" y1="535" x2="350.85" y2="538.3" stroke="#000" stroke-width="1.3"/>
<line x1="355.58" y1="535" x2="355.58" y2="540.5" stroke="#000" stroke-width="2"/>
<line x1="386.69" y1="535" x2="386.69" y2="538.3" stroke="#000" stroke-width="1.3"/>
<line x1="404.9" y1="535" x2="404.9" y2="538.3" stroke="#000" stroke-width="1.3"/>
<line x1="417.81" y1="535" x2="417.81" y2="538.3" stroke="#000" stroke-width="1.3"/>
<line x1="427.83" y1="535" x2="427.83" y2="538.3" stroke="#000" stroke-width="1.3"/>
<line x1="436.01" y1="535" x2="436.01" y2="538.3" stroke="#000" stroke-width="1.3"/>
<line x1="442.93" y1="535" x2="442.93" y2="538.3" stroke="#000" stroke-width="1.3"/>
<line x1="448.92" y1="535" x2="448.92" y2="538.3" stroke="#000" stroke-width="1.3"/>
<line x1="454.21" y1="535" x2="454.21" y2="538.3" stroke="#000" stroke-width="1.3"/>
<line x1="458.94" y1="535" x2="458.94" y2="540.5" stroke="#000" stroke-width="2"/>
<line x1="490.05" y1="535" x2="490.05" y2="538.3" stroke="#000" stroke-width="1.3"/>
<line x1="508.26" y1="535" x2="508.26" y2="538.3" stroke="#000" stroke-width="1.3"/>
<line x1="521.17" y1="535" x2="521.17" y2="538.3" stroke="#000" stroke-width="1.3"/>
<line x1="531.19" y1="535" x2="531.19" y2="538.3" stroke="#000" stroke-width="1.3"/>
<line x1="539.37" y1="535" x2="539.37" y2="538.3" stroke="#000" stroke-width="1.3"/>
<line x1="546.29" y1="535" x2="546.29" y2="538.3" stroke="#000" stroke-width="1.3"/>
<line x1="552.28" y1="535" x2="552.28" y2="538.3" stroke="#000" stroke-width="1.3"/>
<line x1="557.57" y1="535" x2="557.57" y2="538.3" stroke="#000" stroke-width="1.3"/>
<line x1="562.3" y1="535" x2="562.3" y2="540.5" stroke="#000" stroke-width="2"/>
<line x1="593.41" y1="535" x2="593.41" y2="538.3" stroke="#000" stroke-width="1.3"/>
<line x1="611.62" y1="535" x2="611.62" y2="538.3" stroke="#000" stroke-width="1.3"/>
<text class="v" x="34 40 46 52" y="551.6"><tspan class="dg">0.01</tspan></text>
<text class="v" x="140.36 146.36 152.36" y="551.6"><tspan class="dg">0.1</tspan></text>
<text class="v" x="249.72" y="551.6"><tspan class="dg">1</tspan></text>
<text class="v" x="350.08 356.08" y="551.6"><tspan class="dg">10</tspan></text>
<text class="v" x="450.44 456.44 462.44" y="551.6"><tspan class="dg">100</tspan></text>
<text class="v" x="550.8 556.8 562.8 568.8" y="551.6"><tspan class="dg">1000</tspan></text>
<text class="v" x="299 311 323 329 337 347 353" y="569.3">粒径<tspan class="h"> (μm)</tspan></text>
<g transform="translate(23.5,490.5) rotate(-90) scale(0.95)" fill="#2a2af0" stroke="#2a2af0"><text class="yt" x="0 12 24 36 48 54 60 66" y="0">微分分布<tspan class="h"> (%)</tspan></text></g>
<g transform="translate(655.8,512.5) rotate(-90) scale(0.975)" fill="#f02020" stroke="#f02020"><text class="yt" x="0 12 24 36 48 60 72 84 96 102 108 114" y="0">累积分布从小到大<tspan class="h"> (%)</tspan></text></g>
<rect x="7.8" y="577.9" width="668.4" height="330.5" fill="none" stroke="#a6badd" stroke-width="1.6"/>
<line x1="173.3" y1="578" x2="173.3" y2="909" stroke="#a6badd" stroke-width="1.6"/>
<line x1="340.5" y1="578" x2="340.5" y2="909" stroke="#a6badd" stroke-width="1.6"/>
<line x1="507.4" y1="578" x2="507.4" y2="909" stroke="#a6badd" stroke-width="1.5"/>
<line x1="509.8" y1="578" x2="509.8" y2="909" stroke="#a6badd" stroke-width="1.5"/>
<line x1="67.2" y1="579" x2="67.2" y2="595" stroke="#d3ddef" stroke-width="1.6"/>
<line x1="115.2" y1="579" x2="115.2" y2="595" stroke="#d3ddef" stroke-width="1.6"/>
<line x1="8" y1="595.8" x2="172.5" y2="595.8" stroke="#d3ddef" stroke-width="1.6"/>
<text class="v" x="10 22 34 42 52 58" y="591.2">粒径<tspan class="h">(μm)</tspan></text>
<text class="v" x="70.5 82.5 94.5 100.5 106.5" y="591.2">微分<tspan class="h">(%)</tspan></text>
<text class="v" x="118.7 130.7 142.7 148.7 154.7" y="591.2">累积<tspan class="h">(%)</tspan></text>
<text class="v" x="10 16 22 28 34" y="608.9"><tspan class="dg">0.010</tspan></text>
<text class="v" x="70.5 76.5 82.5 88.5" y="608.9"><tspan class="dg">0.00</tspan></text>
<text class="v" x="118.7 124.7 130.7 136.7" y="608.9"><tspan class="dg">0.00</tspan></text>
<text class="v" x="10 16 22 28 34" y="622.95"><tspan class="dg">0.012</tspan></text>
<text class="v" x="70.5 76.5 82.5 88.5" y="622.95"><tspan class="dg">0.00</tspan></text>
<text class="v" x="118.7 124.7 130.7 136.7" y="622.95"><tspan class="dg">0.00</tspan></text>
<text class="v" x="10 16 22 28 34" y="637"><tspan class="dg">0.014</tspan></text>
<text class="v" x="70.5 76.5 82.5 88.5" y="637"><tspan class="dg">0.00</tspan></text>
<text class="v" x="118.7 124.7 130.7 136.7" y="637"><tspan class="dg">0.00</tspan></text>
<text class="v" x="10 16 22 28 34" y="651.05"><tspan class="dg">0.017</tspan></text>
<text class="v" x="70.5 76.5 82.5 88.5" y="651.05"><tspan class="dg">0.00</tspan></text>
<text class="v" x="118.7 124.7 130.7 136.7" y="651.05"><tspan class="dg">0.00</tspan></text>
<text class="v" x="10 16 22 28 34" y="665.1"><tspan class="dg">0.020</tspan></text>
<text class="v" x="70.5 76.5 82.5 88.5" y="665.1"><tspan class="dg">0.00</tspan></text>
<text class="v" x="118.7 124.7 130.7 136.7" y="665.1"><tspan class="dg">0.00</tspan></text>
<text class="v" x="10 16 22 28 34" y="679.15"><tspan class="dg">0.023</tspan></text>
<text class="v" x="70.5 76.5 82.5 88.5" y="679.15"><tspan class="dg">0.00</tspan></text>
<text class="v" x="118.7 124.7 130.7 136.7" y="679.15"><tspan class="dg">0.00</tspan></text>
<text class="v" x="10 16 22 28 34" y="693.2"><tspan class="dg">0.027</tspan></text>
<text class="v" x="70.5 76.5 82.5 88.5" y="693.2"><tspan class="dg">0.00</tspan></text>
<text class="v" x="118.7 124.7 130.7 136.7" y="693.2"><tspan class="dg">0.00</tspan></text>
<text class="v" x="10 16 22 28 34" y="707.25"><tspan class="dg">0.032</tspan></text>
<text class="v" x="70.5 76.5 82.5 88.5" y="707.25"><tspan class="dg">0.00</tspan></text>
<text class="v" x="118.7 124.7 130.7 136.7" y="707.25"><tspan class="dg">0.00</tspan></text>
<text class="v" x="10 16 22 28 34" y="721.3"><tspan class="dg">0.037</tspan></text>
<text class="v" x="70.5 76.5 82.5 88.5" y="721.3"><tspan class="dg">0.00</tspan></text>
<text class="v" x="118.7 124.7 130.7 136.7" y="721.3"><tspan class="dg">0.00</tspan></text>
<text class="v" x="10 16 22 28 34" y="735.35"><tspan class="dg">0.043</tspan></text>
<text class="v" x="70.5 76.5 82.5 88.5" y="735.35"><tspan class="dg">0.00</tspan></text>
<text class="v" x="118.7 124.7 130.7 136.7" y="735.35"><tspan class="dg">0.00</tspan></text>
<text class="v" x="10 16 22 28 34" y="749.4"><tspan class="dg">0.050</tspan></text>
<text class="v" x="70.5 76.5 82.5 88.5" y="749.4"><tspan class="dg">0.00</tspan></text>
<text class="v" x="118.7 124.7 130.7 136.7" y="749.4"><tspan class="dg">0.00</tspan></text>
<text class="v" x="10 16 22 28 34" y="763.45"><tspan class="dg">0.058</tspan></text>
<text class="v" x="70.5 76.5 82.5 88.5" y="763.45"><tspan class="dg">0.00</tspan></text>
<text class="v" x="118.7 124.7 130.7 136.7" y="763.45"><tspan class="dg">0.00</tspan></text>
<text class="v" x="10 16 22 28 34" y="777.5"><tspan class="dg">0.068</tspan></text>
<text class="v" x="70.5 76.5 82.5 88.5" y="777.5"><tspan class="dg">0.00</tspan></text>
<text class="v" x="118.7 124.7 130.7 136.7" y="777.5"><tspan class="dg">0.00</tspan></text>
<text class="v" x="10 16 22 28 34" y="791.55"><tspan class="dg">0.079</tspan></text>
<text class="v" x="70.5 76.5 82.5 88.5" y="791.55"><tspan class="dg">0.00</tspan></text>
<text class="v" x="118.7 124.7 130.7 136.7" y="791.55"><tspan class="dg">0.00</tspan></text>
<text class="v" x="10 16 22 28 34" y="805.6"><tspan class="dg">0.092</tspan></text>
<text class="v" x="70.5 76.5 82.5 88.5" y="805.6"><tspan class="dg">0.00</tspan></text>
<text class="v" x="118.7 124.7 130.7 136.7" y="805.6"><tspan class="dg">0.00</tspan></text>
<text class="v" x="10 16 22 28 34" y="819.65"><tspan class="dg">0.107</tspan></text>
<text class="v" x="70.5 76.5 82.5 88.5" y="819.65"><tspan class="dg">0.00</tspan></text>
<text class="v" x="118.7 124.7 130.7 136.7" y="819.65"><tspan class="dg">0.00</tspan></text>
<text class="v" x="10 16 22 28 34" y="833.7"><tspan class="dg">0.124</tspan></text>
<text class="v" x="70.5 76.5 82.5 88.5" y="833.7"><tspan class="dg">0.00</tspan></text>
<text class="v" x="118.7 124.7 130.7 136.7" y="833.7"><tspan class="dg">0.00</tspan></text>
<text class="v" x="10 16 22 28 34" y="847.75"><tspan class="dg">0.144</tspan></text>
<text class="v" x="70.5 76.5 82.5 88.5" y="847.75"><tspan class="dg">0.00</tspan></text>
<text class="v" x="118.7 124.7 130.7 136.7" y="847.75"><tspan class="dg">0.00</tspan></text>
<text class="v" x="10 16 22 28 34" y="861.8"><tspan class="dg">0.168</tspan></text>
<text class="v" x="70.5 76.5 82.5 88.5" y="861.8"><tspan class="dg">0.00</tspan></text>
<text class="v" x="118.7 124.7 130.7 136.7" y="861.8"><tspan class="dg">0.00</tspan></text>
<text class="v" x="10 16 22 28 34" y="875.85"><tspan class="dg">0.195</tspan></text>
<text class="v" x="70.5 76.5 82.5 88.5" y="875.85"><tspan class="dg">0.00</tspan></text>
<text class="v" x="118.7 124.7 130.7 136.7" y="875.85"><tspan class="dg">0.00</tspan></text>
<text class="v" x="10 16 22 28 34" y="889.9"><tspan class="dg">0.227</tspan></text>
<text class="v" x="70.5 76.5 82.5 88.5" y="889.9"><tspan class="dg">0.00</tspan></text>
<text class="v" x="118.7 124.7 130.7 136.7" y="889.9"><tspan class="dg">0.00</tspan></text>
<text class="v" x="10 16 22 28 34" y="903.95"><tspan class="dg">0.264</tspan></text>
<text class="v" x="70.5 76.5 82.5 88.5" y="903.95"><tspan class="dg">0.00</tspan></text>
<text class="v" x="118.7 124.7 130.7 136.7" y="903.95"><tspan class="dg">0.00</tspan></text>
<line x1="233.2" y1="579" x2="233.2" y2="595" stroke="#d3ddef" stroke-width="1.6"/>
<line x1="281.2" y1="579" x2="281.2" y2="595" stroke="#d3ddef" stroke-width="1.6"/>
<line x1="174" y1="595.8" x2="339.7" y2="595.8" stroke="#d3ddef" stroke-width="1.6"/>
<text class="v" x="176 188 200 208 218 224" y="591.2">粒径<tspan class="h">(μm)</tspan></text>
<text class="v" x="236.5 248.5 260.5 266.5 272.5" y="591.2">微分<tspan class="h">(%)</tspan></text>
<text class="v" x="284.7 296.7 308.7 314.7 320.7" y="591.2">累积<tspan class="h">(%)</tspan></text>
<text class="v" x="176 182 188 194 200" y="608.9"><tspan class="dg">0.308</tspan></text>
<text class="v" x="236.5 242.5 248.5 254.5" y="608.9"><tspan class="dg">0.00</tspan></text>
<text class="v" x="284.7 290.7 296.7 302.7" y="608.9"><tspan class="dg">0.00</tspan></text>
<text class="v" x="176 182 188 194 200" y="622.95"><tspan class="dg">0.358</tspan></text>
<text class="v" x="236.5 242.5 248.5 254.5" y="622.95"><tspan class="dg">0.00</tspan></text>
<text class="v" x="284.7 290.7 296.7 302.7" y="622.95"><tspan class="dg">0.00</tspan></text>
<text class="v" x="176 182 188 194 200" y="637"><tspan class="dg">0.416</tspan></text>
<text class="v" x="236.5 242.5 248.5 254.5" y="637"><tspan class="dg">0.09</tspan></text>
<text class="v" x="284.7 290.7 296.7 302.7" y="637"><tspan class="dg">0.09</tspan></text>
<text class="v" x="176 182 188 194 200" y="651.05"><tspan class="dg">0.484</tspan></text>
<text class="v" x="236.5 242.5 248.5 254.5" y="651.05"><tspan class="dg">0.46</tspan></text>
<text class="v" x="284.7 290.7 296.7 302.7" y="651.05"><tspan class="dg">0.54</tspan></text>
<text class="v" x="176 182 188 194 200" y="665.1"><tspan class="dg">0.564</tspan></text>
<text class="v" x="236.5 242.5 248.5 254.5" y="665.1"><tspan class="dg">0.77</tspan></text>
<text class="v" x="284.7 290.7 296.7 302.7" y="665.1"><tspan class="dg">1.31</tspan></text>
<text class="v" x="176 182 188 194 200" y="679.15"><tspan class="dg">0.656</tspan></text>
<text class="v" x="236.5 242.5 248.5 254.5" y="679.15"><tspan class="dg">1.00</tspan></text>
<text class="v" x="284.7 290.7 296.7 302.7" y="679.15"><tspan class="dg">2.31</tspan></text>
<text class="v" x="176 182 188 194 200" y="693.2"><tspan class="dg">0.763</tspan></text>
<text class="v" x="236.5 242.5 248.5 254.5" y="693.2"><tspan class="dg">1.15</tspan></text>
<text class="v" x="284.7 290.7 296.7 302.7" y="693.2"><tspan class="dg">3.46</tspan></text>
<text class="v" x="176 182 188 194 200" y="707.25"><tspan class="dg">0.887</tspan></text>
<text class="v" x="236.5 242.5 248.5 254.5" y="707.25"><tspan class="dg">1.25</tspan></text>
<text class="v" x="284.7 290.7 296.7 302.7" y="707.25"><tspan class="dg">4.71</tspan></text>
<text class="v" x="176 182 188 194 200" y="721.3"><tspan class="dg">1.032</tspan></text>
<text class="v" x="236.5 242.5 248.5 254.5" y="721.3"><tspan class="dg">1.32</tspan></text>
<text class="v" x="284.7 290.7 296.7 302.7" y="721.3"><tspan class="dg">6.03</tspan></text>
<text class="v" x="176 182 188 194 200" y="735.35"><tspan class="dg">1.201</tspan></text>
<text class="v" x="236.5 242.5 248.5 254.5" y="735.35"><tspan class="dg">1.43</tspan></text>
<text class="v" x="284.7 290.7 296.7 302.7" y="735.35"><tspan class="dg">7.46</tspan></text>
<text class="v" x="176 182 188 194 200" y="749.4"><tspan class="dg">1.397</tspan></text>
<text class="v" x="236.5 242.5 248.5 254.5" y="749.4"><tspan class="dg">1.60</tspan></text>
<text class="v" x="284.7 290.7 296.7 302.7" y="749.4"><tspan class="dg">9.06</tspan></text>
<text class="v" x="176 182 188 194 200" y="763.45"><tspan class="dg">1.626</tspan></text>
<text class="v" x="236.5 242.5 248.5 254.5" y="763.45"><tspan class="dg">1.91</tspan></text>
<text class="v" x="284.7 290.7 296.7 302.7 308.7" y="763.45"><tspan class="dg">10.97</tspan></text>
<text class="v" x="176 182 188 194 200" y="777.5"><tspan class="dg">1.892</tspan></text>
<text class="v" x="236.5 242.5 248.5 254.5" y="777.5"><tspan class="dg">2.35</tspan></text>
<text class="v" x="284.7 290.7 296.7 302.7 308.7" y="777.5"><tspan class="dg">13.33</tspan></text>
<text class="v" x="176 182 188 194 200" y="791.55"><tspan class="dg">2.201</tspan></text>
<text class="v" x="236.5 242.5 248.5 254.5" y="791.55"><tspan class="dg">2.93</tspan></text>
<text class="v" x="284.7 290.7 296.7 302.7 308.7" y="791.55"><tspan class="dg">16.25</tspan></text>
<text class="v" x="176 182 188 194 200" y="805.6"><tspan class="dg">2.560</tspan></text>
<text class="v" x="236.5 242.5 248.5 254.5" y="805.6"><tspan class="dg">3.62</tspan></text>
<text class="v" x="284.7 290.7 296.7 302.7 308.7" y="805.6"><tspan class="dg">19.87</tspan></text>
<text class="v" x="176 182 188 194 200" y="819.65"><tspan class="dg">2.979</tspan></text>
<text class="v" x="236.5 242.5 248.5 254.5" y="819.65"><tspan class="dg">4.42</tspan></text>
<text class="v" x="284.7 290.7 296.7 302.7 308.7" y="819.65"><tspan class="dg">24.29</tspan></text>
<text class="v" x="176 182 188 194 200" y="833.7"><tspan class="dg">3.466</tspan></text>
<text class="v" x="236.5 242.5 248.5 254.5" y="833.7"><tspan class="dg">5.23</tspan></text>
<text class="v" x="284.7 290.7 296.7 302.7 308.7" y="833.7"><tspan class="dg">29.52</tspan></text>
<text class="v" x="176 182 188 194 200" y="847.75"><tspan class="dg">4.032</tspan></text>
<text class="v" x="236.5 242.5 248.5 254.5" y="847.75"><tspan class="dg">6.02</tspan></text>
<text class="v" x="284.7 290.7 296.7 302.7 308.7" y="847.75"><tspan class="dg">35.54</tspan></text>
<text class="v" x="176 182 188 194 200" y="861.8"><tspan class="dg">4.691</tspan></text>
<text class="v" x="236.5 242.5 248.5 254.5" y="861.8"><tspan class="dg">6.71</tspan></text>
<text class="v" x="284.7 290.7 296.7 302.7 308.7" y="861.8"><tspan class="dg">42.25</tspan></text>
<text class="v" x="176 182 188 194 200" y="875.85"><tspan class="dg">5.458</tspan></text>
<text class="v" x="236.5 242.5 248.5 254.5" y="875.85"><tspan class="dg">7.23</tspan></text>
<text class="v" x="284.7 290.7 296.7 302.7 308.7" y="875.85"><tspan class="dg">49.48</tspan></text>
<text class="v" x="176 182 188 194 200" y="889.9"><tspan class="dg">6.350</tspan></text>
<text class="v" x="236.5 242.5 248.5 254.5" y="889.9"><tspan class="dg">7.52</tspan></text>
<text class="v" x="284.7 290.7 296.7 302.7 308.7" y="889.9"><tspan class="dg">57.00</tspan></text>
<text class="v" x="176 182 188 194 200" y="903.95"><tspan class="dg">7.388</tspan></text>
<text class="v" x="236.5 242.5 248.5 254.5" y="903.95"><tspan class="dg">7.53</tspan></text>
<text class="v" x="284.7 290.7 296.7 302.7 308.7" y="903.95"><tspan class="dg">64.53</tspan></text>
<line x1="400.2" y1="579" x2="400.2" y2="595" stroke="#d3ddef" stroke-width="1.6"/>
<line x1="448.2" y1="579" x2="448.2" y2="595" stroke="#d3ddef" stroke-width="1.6"/>
<line x1="341" y1="595.8" x2="506.7" y2="595.8" stroke="#d3ddef" stroke-width="1.6"/>
<text class="v" x="343 355 367 375 385 391" y="591.2">粒径<tspan class="h">(μm)</tspan></text>
<text class="v" x="403.5 415.5 427.5 433.5 439.5" y="591.2">微分<tspan class="h">(%)</tspan></text>
<text class="v" x="451.7 463.7 475.7 481.7 487.7" y="591.2">累积<tspan class="h">(%)</tspan></text>
<text class="v" x="343 349 355 361 367" y="608.9"><tspan class="dg">8.595</tspan></text>
<text class="v" x="403.5 409.5 415.5 421.5" y="608.9"><tspan class="dg">7.25</tspan></text>
<text class="v" x="451.7 457.7 463.7 469.7 475.7" y="608.9"><tspan class="dg">71.78</tspan></text>
<text class="v" x="343 349 355 361 367 373" y="622.95"><tspan class="dg">10.000</tspan></text>
<text class="v" x="403.5 409.5 415.5 421.5" y="622.95"><tspan class="dg">6.69</tspan></text>
<text class="v" x="451.7 457.7 463.7 469.7 475.7" y="622.95"><tspan class="dg">78.47</tspan></text>
<text class="v" x="343 349 355 361 367 373" y="637"><tspan class="dg">11.630</tspan></text>
<text class="v" x="403.5 409.5 415.5 421.5" y="637"><tspan class="dg">5.89</tspan></text>
<text class="v" x="451.7 457.7 463.7 469.7 475.7" y="637"><tspan class="dg">84.36</tspan></text>
<text class="v" x="343 349 355 361 367 373" y="651.05"><tspan class="dg">13.540</tspan></text>
<text class="v" x="403.5 409.5 415.5 421.5" y="651.05"><tspan class="dg">4.96</tspan></text>
<text class="v" x="451.7 457.7 463.7 469.7 475.7" y="651.05"><tspan class="dg">89.32</tspan></text>
<text class="v" x="343 349 355 361 367 373" y="665.1"><tspan class="dg">15.750</tspan></text>
<text class="v" x="403.5 409.5 415.5 421.5" y="665.1"><tspan class="dg">3.89</tspan></text>
<text class="v" x="451.7 457.7 463.7 469.7 475.7" y="665.1"><tspan class="dg">93.22</tspan></text>
<text class="v" x="343 349 355 361 367 373" y="679.15"><tspan class="dg">18.320</tspan></text>
<text class="v" x="403.5 409.5 415.5 421.5" y="679.15"><tspan class="dg">2.87</tspan></text>
<text class="v" x="451.7 457.7 463.7 469.7 475.7" y="679.15"><tspan class="dg">96.08</tspan></text>
<text class="v" x="343 349 355 361 367 373" y="693.2"><tspan class="dg">21.320</tspan></text>
<text class="v" x="403.5 409.5 415.5 421.5" y="693.2"><tspan class="dg">1.94</tspan></text>
<text class="v" x="451.7 457.7 463.7 469.7 475.7" y="693.2"><tspan class="dg">98.03</tspan></text>
<text class="v" x="343 349 355 361 367 373" y="707.25"><tspan class="dg">24.800</tspan></text>
<text class="v" x="403.5 409.5 415.5 421.5" y="707.25"><tspan class="dg">1.17</tspan></text>
<text class="v" x="451.7 457.7 463.7 469.7 475.7" y="707.25"><tspan class="dg">99.19</tspan></text>
<text class="v" x="343 349 355 361 367 373" y="721.3"><tspan class="dg">28.850</tspan></text>
<text class="v" x="403.5 409.5 415.5 421.5" y="721.3"><tspan class="dg">0.59</tspan></text>
<text class="v" x="451.7 457.7 463.7 469.7 475.7" y="721.3"><tspan class="dg">99.79</tspan></text>
<text class="v" x="343 349 355 361 367 373" y="735.35"><tspan class="dg">33.570</tspan></text>
<text class="v" x="403.5 409.5 415.5 421.5" y="735.35"><tspan class="dg">0.21</tspan></text>
<text class="v" x="451.7 457.7 463.7 469.7 475.7 481.7" y="735.35"><tspan class="dg">100.00</tspan></text>
<text class="v" x="343 349 355 361 367 373" y="749.4"><tspan class="dg">39.060</tspan></text>
<text class="v" x="403.5 409.5 415.5 421.5" y="749.4"><tspan class="dg">0.00</tspan></text>
<text class="v" x="451.7 457.7 463.7 469.7 475.7 481.7" y="749.4"><tspan class="dg">100.00</tspan></text>
<text class="v" x="343 349 355 361 367 373" y="763.45"><tspan class="dg">45.440</tspan></text>
<text class="v" x="403.5 409.5 415.5 421.5" y="763.45"><tspan class="dg">0.00</tspan></text>
<text class="v" x="451.7 457.7 463.7 469.7 475.7 481.7" y="763.45"><tspan class="dg">100.00</tspan></text>
<text class="v" x="343 349 355 361 367 373" y="777.5"><tspan class="dg">52.870</tspan></text>
<text class="v" x="403.5 409.5 415.5 421.5" y="777.5"><tspan class="dg">0.00</tspan></text>
<text class="v" x="451.7 457.7 463.7 469.7 475.7 481.7" y="777.5"><tspan class="dg">100.00</tspan></text>
<text class="v" x="343 349 355 361 367 373" y="791.55"><tspan class="dg">61.510</tspan></text>
<text class="v" x="403.5 409.5 415.5 421.5" y="791.55"><tspan class="dg">0.00</tspan></text>
<text class="v" x="451.7 457.7 463.7 469.7 475.7 481.7" y="791.55"><tspan class="dg">100.00</tspan></text>
<text class="v" x="343 349 355 361 367 373" y="805.6"><tspan class="dg">71.560</tspan></text>
<text class="v" x="403.5 409.5 415.5 421.5" y="805.6"><tspan class="dg">0.00</tspan></text>
<text class="v" x="451.7 457.7 463.7 469.7 475.7 481.7" y="805.6"><tspan class="dg">100.00</tspan></text>
<text class="v" x="343 349 355 361 367 373" y="819.65"><tspan class="dg">83.260</tspan></text>
<text class="v" x="403.5 409.5 415.5 421.5" y="819.65"><tspan class="dg">0.00</tspan></text>
<text class="v" x="451.7 457.7 463.7 469.7 475.7 481.7" y="819.65"><tspan class="dg">100.00</tspan></text>
<text class="v" x="343 349 355 361 367 373" y="833.7"><tspan class="dg">96.860</tspan></text>
<text class="v" x="403.5 409.5 415.5 421.5" y="833.7"><tspan class="dg">0.00</tspan></text>
<text class="v" x="451.7 457.7 463.7 469.7 475.7 481.7" y="833.7"><tspan class="dg">100.00</tspan></text>
<text class="v" x="343 349 355 361 367 373 379" y="847.75"><tspan class="dg">112.700</tspan></text>
<text class="v" x="403.5 409.5 415.5 421.5" y="847.75"><tspan class="dg">0.00</tspan></text>
<text class="v" x="451.7 457.7 463.7 469.7 475.7 481.7" y="847.75"><tspan class="dg">100.00</tspan></text>
<text class="v" x="343 349 355 361 367 373 379" y="861.8"><tspan class="dg">131.100</tspan></text>
<text class="v" x="403.5 409.5 415.5 421.5" y="861.8"><tspan class="dg">0.00</tspan></text>
<text class="v" x="451.7 457.7 463.7 469.7 475.7 481.7" y="861.8"><tspan class="dg">100.00</tspan></text>
<text class="v" x="343 349 355 361 367 373 379" y="875.85"><tspan class="dg">152.500</tspan></text>
<text class="v" x="403.5 409.5 415.5 421.5" y="875.85"><tspan class="dg">0.00</tspan></text>
<text class="v" x="451.7 457.7 463.7 469.7 475.7 481.7" y="875.85"><tspan class="dg">100.00</tspan></text>
<text class="v" x="343 349 355 361 367 373 379" y="889.9"><tspan class="dg">177.500</tspan></text>
<text class="v" x="403.5 409.5 415.5 421.5" y="889.9"><tspan class="dg">0.00</tspan></text>
<text class="v" x="451.7 457.7 463.7 469.7 475.7 481.7" y="889.9"><tspan class="dg">100.00</tspan></text>
<text class="v" x="343 349 355 361 367 373 379" y="903.95"><tspan class="dg">206.500</tspan></text>
<text class="v" x="403.5 409.5 415.5 421.5" y="903.95"><tspan class="dg">0.00</tspan></text>
<text class="v" x="451.7 457.7 463.7 469.7 475.7 481.7" y="903.95"><tspan class="dg">100.00</tspan></text>
<line x1="568.5" y1="579" x2="568.5" y2="595" stroke="#d3ddef" stroke-width="1.6"/>
<line x1="616.5" y1="579" x2="616.5" y2="595" stroke="#d3ddef" stroke-width="1.6"/>
<line x1="663.5" y1="579" x2="663.5" y2="595" stroke="#eef2f8" stroke-width="1.2"/>
<line x1="509.3" y1="595.8" x2="676" y2="595.8" stroke="#d3ddef" stroke-width="1.6"/>
<text class="v" x="511.3 523.3 535.3 543.3 553.3 559.3" y="591.2">粒径<tspan class="h">(μm)</tspan></text>
<text class="v" x="571.8 583.8 595.8 601.8 607.8" y="591.2">微分<tspan class="h">(%)</tspan></text>
<text class="v" x="620 632 644 650 656" y="591.2">累积<tspan class="h">(%)</tspan></text>
<text class="v" x="511.3 517.3 523.3 529.3 535.3 541.3 547.3" y="608.9"><tspan class="dg">240.200</tspan></text>
<text class="v" x="571.8 577.8 583.8 589.8" y="608.9"><tspan class="dg">0.00</tspan></text>
<text class="v" x="620 626 632 638 644 650" y="608.9"><tspan class="dg">100.00</tspan></text>
<text class="v" x="511.3 517.3 523.3 529.3 535.3 541.3 547.3" y="622.95"><tspan class="dg">279.500</tspan></text>
<text class="v" x="571.8 577.8 583.8 589.8" y="622.95"><tspan class="dg">0.00</tspan></text>
<text class="v" x="620 626 632 638 644 650" y="622.95"><tspan class="dg">100.00</tspan></text>
<text class="v" x="511.3 517.3 523.3 529.3 535.3 541.3 547.3" y="637"><tspan class="dg">325.200</tspan></text>
<text class="v" x="571.8 577.8 583.8 589.8" y="637"><tspan class="dg">0.00</tspan></text>
<text class="v" x="620 626 632 638 644 650" y="637"><tspan class="dg">100.00</tspan></text>
<text class="v" x="511.3 517.3 523.3 529.3 535.3 541.3 547.3" y="651.05"><tspan class="dg">378.300</tspan></text>
<text class="v" x="571.8 577.8 583.8 589.8" y="651.05"><tspan class="dg">0.00</tspan></text>
<text class="v" x="620 626 632 638 644 650" y="651.05"><tspan class="dg">100.00</tspan></text>
<text class="v" x="511.3 517.3 523.3 529.3 535.3 541.3 547.3" y="665.1"><tspan class="dg">440.100</tspan></text>
<text class="v" x="571.8 577.8 583.8 589.8" y="665.1"><tspan class="dg">0.00</tspan></text>
<text class="v" x="620 626 632 638 644 650" y="665.1"><tspan class="dg">100.00</tspan></text>
<text class="v" x="511.3 517.3 523.3 529.3 535.3 541.3 547.3" y="679.15"><tspan class="dg">512.100</tspan></text>
<text class="v" x="571.8 577.8 583.8 589.8" y="679.15"><tspan class="dg">0.00</tspan></text>
<text class="v" x="620 626 632 638 644 650" y="679.15"><tspan class="dg">100.00</tspan></text>
<text class="v" x="511.3 517.3 523.3 529.3 535.3 541.3 547.3" y="693.2"><tspan class="dg">595.800</tspan></text>
<text class="v" x="571.8 577.8 583.8 589.8" y="693.2"><tspan class="dg">0.00</tspan></text>
<text class="v" x="620 626 632 638 644 650" y="693.2"><tspan class="dg">100.00</tspan></text>
<text class="v" x="511.3 517.3 523.3 529.3 535.3 541.3 547.3" y="707.25"><tspan class="dg">693.100</tspan></text>
<text class="v" x="571.8 577.8 583.8 589.8" y="707.25"><tspan class="dg">0.00</tspan></text>
<text class="v" x="620 626 632 638 644 650" y="707.25"><tspan class="dg">100.00</tspan></text>
<text class="v" x="511.3 517.3 523.3 529.3 535.3 541.3 547.3" y="721.3"><tspan class="dg">806.400</tspan></text>
<text class="v" x="571.8 577.8 583.8 589.8" y="721.3"><tspan class="dg">0.00</tspan></text>
<text class="v" x="620 626 632 638 644 650" y="721.3"><tspan class="dg">100.00</tspan></text>
<text class="v" x="511.3 517.3 523.3 529.3 535.3 541.3 547.3" y="735.35"><tspan class="dg">938.200</tspan></text>
<text class="v" x="571.8 577.8 583.8 589.8" y="735.35"><tspan class="dg">0.00</tspan></text>
<text class="v" x="620 626 632 638 644 650" y="735.35"><tspan class="dg">100.00</tspan></text>
<text class="v" x="511.3 517.3 523.3 529.3 535.3 541.3 547.3 553.3" y="749.4"><tspan class="dg">1092.000</tspan></text>
<text class="v" x="571.8 577.8 583.8 589.8" y="749.4"><tspan class="dg">0.00</tspan></text>
<text class="v" x="620 626 632 638 644 650" y="749.4"><tspan class="dg">100.00</tspan></text>
<text class="v" x="511.3 517.3 523.3 529.3 535.3 541.3 547.3 553.3" y="763.45"><tspan class="dg">1270.000</tspan></text>
<text class="v" x="571.8 577.8 583.8 589.8" y="763.45"><tspan class="dg">0.00</tspan></text>
<text class="v" x="620 626 632 638 644 650" y="763.45"><tspan class="dg">100.00</tspan></text>
<text class="v" x="511.3 517.3 523.3 529.3 535.3 541.3 547.3 553.3" y="777.5"><tspan class="dg">1478.000</tspan></text>
<text class="v" x="571.8 577.8 583.8 589.8" y="777.5"><tspan class="dg">0.00</tspan></text>
<text class="v" x="620 626 632 638 644 650" y="777.5"><tspan class="dg">100.00</tspan></text>
<text class="v" x="511.3 517.3 523.3 529.3 535.3 541.3 547.3 553.3" y="791.55"><tspan class="dg">1719.000</tspan></text>
<text class="v" x="571.8 577.8 583.8 589.8" y="791.55"><tspan class="dg">0.00</tspan></text>
<text class="v" x="620 626 632 638 644 650" y="791.55"><tspan class="dg">100.00</tspan></text>
<text class="v" x="511.3 517.3 523.3 529.3 535.3 541.3 547.3 553.3" y="805.6"><tspan class="dg">2000.000</tspan></text>
<text class="v" x="571.8 577.8 583.8 589.8" y="805.6"><tspan class="dg">0.00</tspan></text>
<text class="v" x="620 626 632 638 644 650" y="805.6"><tspan class="dg">100.00</tspan></text>
<text class="v" x="511.3 517.3 523.3 529.3 535.3 541.3 547.3 553.3" y="819.65"><tspan class="dg">2326.000</tspan></text>
<text class="v" x="571.8 577.8 583.8 589.8" y="819.65"><tspan class="dg">0.00</tspan></text>
<text class="v" x="620 626 632 638 644 650" y="819.65"><tspan class="dg">100.00</tspan></text>
<text class="v" x="511.3 517.3 523.3 529.3 535.3 541.3 547.3 553.3" y="833.7"><tspan class="dg">2707.000</tspan></text>
<text class="v" x="571.8 577.8 583.8 589.8" y="833.7"><tspan class="dg">0.00</tspan></text>
<text class="v" x="620 626 632 638 644 650" y="833.7"><tspan class="dg">100.00</tspan></text>
<text class="v" x="511.3 517.3 523.3 529.3 535.3 541.3 547.3 553.3" y="847.75"><tspan class="dg">3149.000</tspan></text>
<text class="v" x="571.8 577.8 583.8 589.8" y="847.75"><tspan class="dg">0.00</tspan></text>
<text class="v" x="620 626 632 638 644 650" y="847.75"><tspan class="dg">100.00</tspan></text>
<text class="v" x="511.3 517.3 523.3 529.3 535.3 541.3 547.3 553.3" y="861.8"><tspan class="dg">3664.000</tspan></text>
<text class="v" x="571.8 577.8 583.8 589.8" y="861.8"><tspan class="dg">0.00</tspan></text>
<text class="v" x="620 626 632 638 644 650" y="861.8"><tspan class="dg">100.00</tspan></text>
</svg>
</body></html>
